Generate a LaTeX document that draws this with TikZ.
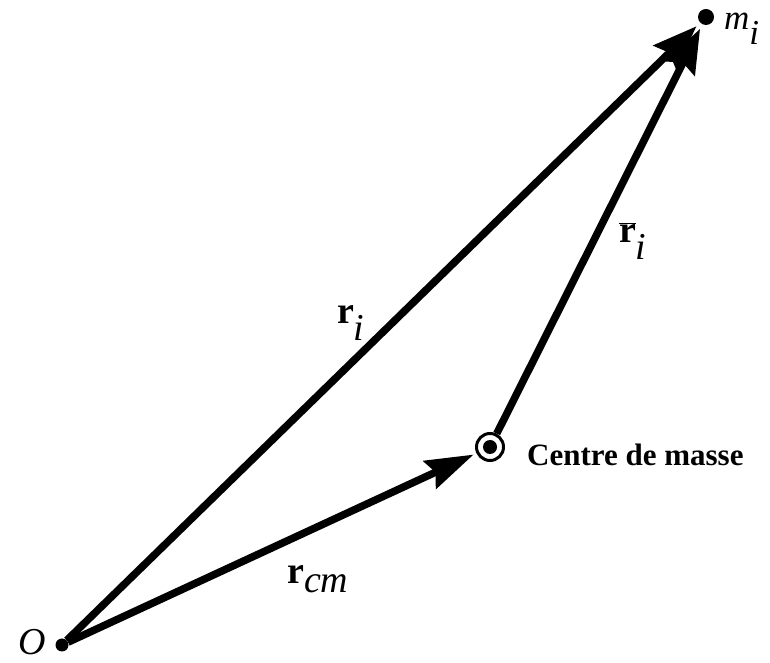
\documentclass[tikz,border=0pt]{standalone}
\usepackage{fontspec}
\setmainfont{Liberation Serif}
\usetikzlibrary{arrows.meta}
\begin{document}
\begin{tikzpicture}[x=1pt,y=1pt,
  vec/.style={line width=7.5pt,-{Stealth[length=44pt,width=32pt,inset=6pt]}},
  dotnode/.style={circle,fill=black,inner sep=0pt,minimum size=#1},
  lbl/.style={inner sep=0pt,font=\fontsize{38}{44}\selectfont}]
\useasboundingbox (0,0) rectangle (770,663);
\node[dotnode=13pt] (O) at (62,18) {};
\node[dotnode=16pt] (m) at (706,646) {};
\node[circle,draw,line width=3pt,fill=white,minimum size=27pt,inner sep=0pt] (cm) at (490,216) {};
\node[dotnode=14pt] (cmdot) at (490,216) {};
\draw[vec] (O) -- (m) [shorten >=5pt];
\draw[vec] (cm) -- (m) [shorten >=5pt];
\draw[vec,-{Stealth[length=48pt,width=30pt,inset=6pt]}] (O) -- (cm) [shorten >=3pt];
\node[lbl,anchor=base west,font=\fontsize{35}{40}\selectfont] (lm) at (724,633) {\textit{m}$_{\textit{i}}$};
\node[lbl] (lri) at (351,340) {\textbf{r}$_{\textit{i}}$};
\node[lbl] (lrb) at (633,422) {$\overline{\textbf{r}}_{\textit{i}}$};
\node[lbl] (lrcm) at (318,84) {\textbf{r}$_{\textit{cm}}$};
\node[lbl,anchor=base] (lO) at (32,9) {\textit{O}};
\node[inner sep=0pt,anchor=base west,font=\fontsize{31}{36}\selectfont\bfseries] (lc) at (527,197) {Centre de masse};
\end{tikzpicture}
\end{document}
